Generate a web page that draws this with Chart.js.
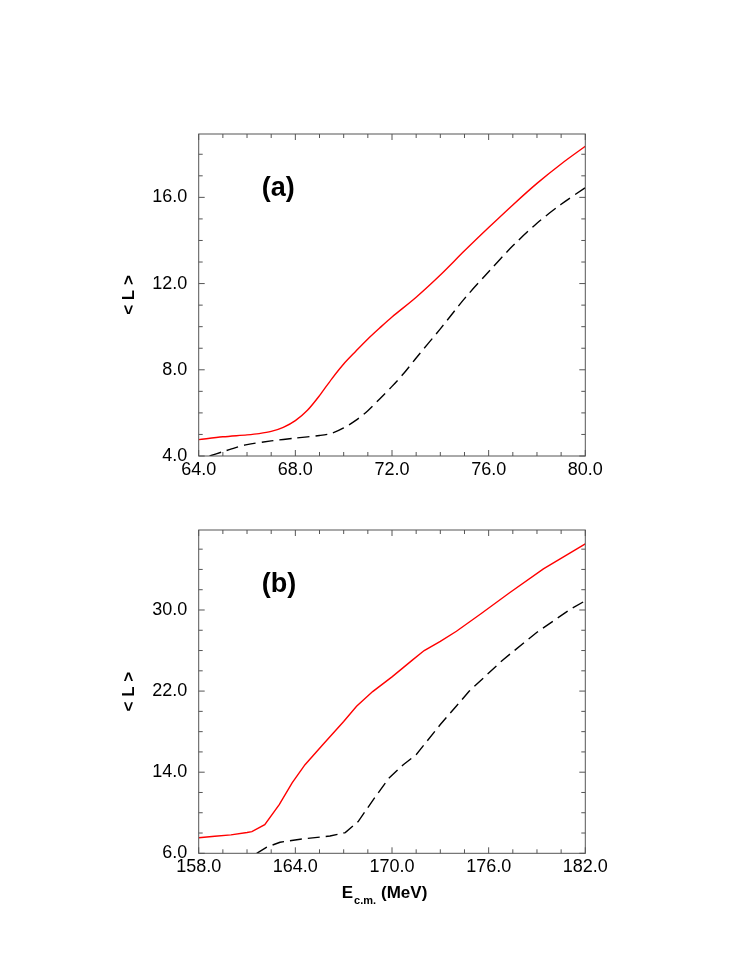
<!DOCTYPE html>
<html><head><meta charset="utf-8">
<script src="https://cdn.jsdelivr.net/npm/chart.js@4.4.1/dist/chart.umd.min.js"></script>
<style>
html,body{margin:0;padding:0;background:#fff;}
#wrapA{position:absolute;left:0;top:0;width:749px;height:490px;}
#wrapB{position:absolute;left:0;top:490px;width:749px;height:479px;}
</style></head><body>
<div id="wrapA"><canvas id="chartA"></canvas></div>
<div id="wrapB"><canvas id="chartB"></canvas></div>
<script>
// ---------- Panel (a) data ----------
const panelA_label = '(a)';
const eA_red = [64, 65, 66, 66.5, 67, 67.5, 68, 68.5, 69, 69.5, 70, 70.5, 71, 71.5, 72, 73, 74, 75, 76, 77, 78, 79, 80];
const lA_red = [4.76, 4.89, 4.98, 5.04, 5.14, 5.33, 5.64, 6.12, 6.8, 7.57, 8.27, 8.86, 9.43, 9.95, 10.45, 11.37, 12.4, 13.52, 14.6, 15.65, 16.65, 17.55, 18.37];
const eA_dash = [64.45, 65, 65.5, 66, 67, 68, 69, 69.5, 70, 70.5, 71, 71.5, 72, 72.5, 73, 74, 75, 76, 77, 78, 79, 80];
const lA_dash = [4.0, 4.2, 4.38, 4.53, 4.7, 4.83, 4.95, 5.05, 5.3, 5.65, 6.1, 6.66, 7.23, 7.85, 8.55, 9.9, 11.3, 12.55, 13.75, 14.8, 15.68, 16.45];
const xTicksA = [64, 68, 72, 76, 80];
const yTicksA = [4, 8, 12, 16];

// ---------- Panel (b) data ----------
const panelB_label = '(b)';
const eB_red = [158, 159, 160, 161, 161.3, 162.1, 163, 163.8, 164.6, 165.7, 167, 167.8, 168.8, 170, 171.3, 172, 173, 174, 175.5, 177.3, 179.4, 182];
const lB_red = [7.54, 7.68, 7.82, 8.05, 8.14, 8.83, 10.8, 12.95, 14.74, 16.7, 19.0, 20.5, 21.95, 23.4, 25.1, 26.0, 26.9, 27.9, 29.6, 31.7, 34.05, 36.52];
const eB_dash = [161.6, 162.2, 163.05, 164.3, 166.15, 167.1, 167.9, 168.8, 169.8, 170.7, 171.5, 173, 174.8, 176.9, 179, 181, 182];
const lB_dash = [6.0, 6.59, 7.09, 7.39, 7.71, 8.04, 9.13, 11.2, 13.4, 14.74, 15.73, 18.7, 22.0, 25.1, 27.8, 30.0, 30.91];
const xTicksB = [158, 164, 170, 176, 182];
const yTicksB = [6, 14, 22, 30];

const yTitle = '< L >';
const xTitleMain = 'E';
const xTitleSub = 'c.m.';
const xTitleUnit = '(MeV)';

// ---------- rendering ----------
const FONT = "'Liberation Sans', Arial, Helvetica, sans-serif";
Chart.defaults.font.family = FONT;
Chart.defaults.color = '#000';

const zip = (xs, ys) => xs.map((x, i) => ({x: x, y: ys[i]}));

const framePlugin = {
  id: 'frameTicks',
  afterDraw(chart, args, o) {
    const {ctx, chartArea: a} = chart;
    const xs = chart.scales.x, ys = chart.scales.y;
    ctx.save();
    ctx.strokeStyle = o.color;
    ctx.lineWidth = 1;
    ctx.strokeRect(a.left, a.top, a.right - a.left, a.bottom - a.top);
    ctx.beginPath();
    const isMajor = (v, arr) => arr.some(m => Math.abs(m - v) < 1e-6);
    const xMaj = xs.ticks.map(t => t.value), yMaj = ys.ticks.map(t => t.value);
    const xTick = (v, len) => {
      const p = xs.getPixelForValue(v);
      ctx.moveTo(p, a.bottom); ctx.lineTo(p, a.bottom - len);
      ctx.moveTo(p, a.top); ctx.lineTo(p, a.top + len);
    };
    const yTick = (v, len) => {
      const p = ys.getPixelForValue(v);
      ctx.moveTo(a.left, p); ctx.lineTo(a.left + len, p);
      ctx.moveTo(a.right, p); ctx.lineTo(a.right - len, p);
    };
    for (let v = xs.min; v <= xs.max + 1e-6; v += o.minorX) xTick(v, isMajor(v, xMaj) ? o.major : o.minor);
    for (let v = yMaj[0]; v <= ys.max + 1e-6; v += o.minorY) yTick(v, isMajor(v, yMaj) ? o.major : o.minor);
    ctx.stroke();
    // panel label
    ctx.fillStyle = '#000';
    ctx.font = 'bold 27px ' + FONT;
    ctx.textBaseline = 'alphabetic';
    ctx.textAlign = 'left';
    ctx.fillText(o.label, a.left + 63, a.top + 62);
    // x-axis title with subscript
    if (o.xTitle) {
      let x = a.left + 143;
      const yb = a.bottom + 45;
      ctx.font = 'bold 17px ' + FONT;
      ctx.fillText(xTitleMain, x, yb);
      x += ctx.measureText(xTitleMain).width + 1;
      ctx.font = 'bold 11px ' + FONT;
      ctx.fillText(xTitleSub, x, yb + 6);
      x += ctx.measureText(xTitleSub).width + 5;
      ctx.font = 'bold 17px ' + FONT;
      ctx.fillText(xTitleUnit, x, yb);
    }
    ctx.restore();
  }
};

function makeChart(id, cfg) {
  return new Chart(document.getElementById(id), {
    type: 'line',
    data: {
      datasets: [
        {data: cfg.red, borderColor: '#ff0000', borderWidth: 1.4, pointRadius: 0, tension: cfg.tension, fill: false},
        {data: cfg.dash, borderColor: '#000000', borderWidth: 1.4, borderDash: [12, 6], pointRadius: 0, tension: cfg.tension, fill: false}
      ]
    },
    options: {
      responsive: true,
      maintainAspectRatio: false,
      animation: false,
      events: [],
      layout: {padding: cfg.padding},
      plugins: {
        legend: {display: false},
        tooltip: {enabled: false},
        frameTicks: {color: '#555', major: 6, minor: 4, minorX: cfg.minorX, minorY: cfg.minorY, label: cfg.label, xTitle: cfg.xTitle}
      },
      scales: {
        x: {
          type: 'linear', min: cfg.xMin, max: cfg.xMax,
          grid: {display: false, drawTicks: false}, border: {display: false},
          afterBuildTicks: s => { s.ticks = cfg.xTicks.map(v => ({value: v})); },
          afterFit: s => { s.height = cfg.xAxisH; },
          ticks: {padding: 3, font: {size: 18}, color: '#000', maxRotation: 0, autoSkip: false, callback: v => Number(v).toFixed(1)}
        },
        y: {
          type: 'linear', min: cfg.yMin, max: cfg.yMax,
          grid: {display: false, drawTicks: false}, border: {display: false},
          afterBuildTicks: s => { s.ticks = cfg.yTicks.map(v => ({value: v})); },
          afterFit: s => { s.width = 198.7; },
          ticks: {padding: 11.5, font: {size: 18}, color: '#000', autoSkip: false, callback: v => Number(v).toFixed(1)},
          title: {display: true, text: yTitle, font: {size: 17, weight: 'bold'}, color: '#000', padding: {top: 119, bottom: 0}}
        }
      }
    },
    plugins: [framePlugin]
  });
}

makeChart('chartA', {
  red: zip(eA_red, lA_red), dash: zip(eA_dash, lA_dash), tension: 0.3,
  xMin: 64, xMax: 80, yMin: 4, yMax: 18.94, xTicks: xTicksA, yTicks: yTicksA,
  minorX: 1, minorY: 1, label: panelA_label, xTitle: false,
  xAxisH: 34, padding: {left: 0, right: 163.7, top: 134, bottom: 0}
});
makeChart('chartB', {
  red: zip(eB_red, lB_red), dash: zip(eB_dash, lB_dash), tension: 0,
  xMin: 158, xMax: 182, yMin: 6, yMax: 37.89, xTicks: xTicksB, yTicks: yTicksB,
  minorX: 1.5, minorY: 2, label: panelB_label, xTitle: true,
  xAxisH: 40, padding: {left: 0, right: 163.7, top: 40, bottom: 75.7}
});
</script>
</body></html>
